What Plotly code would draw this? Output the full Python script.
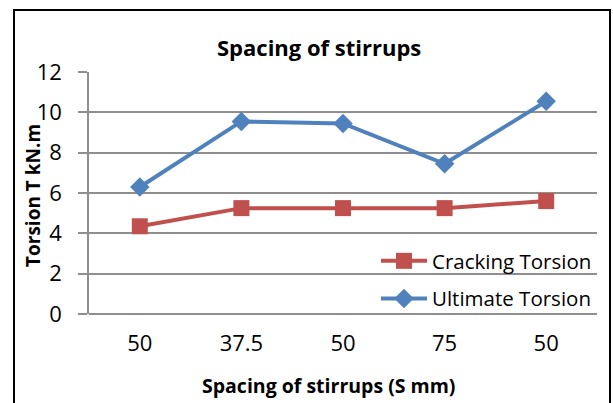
import plotly.graph_objects as go

categories = ["50", "37.5", "50", "75", "50"]
cracking = [4.35, 5.25, 5.25, 5.25, 5.6]
ultimate = [6.3, 9.55, 9.45, 7.45, 10.55]
y_ticks = [0, 2, 4, 6, 8, 10, 12]

FONT = "Open Sans"
GRID = "#8e8e8e"
x_idx = list(range(len(categories)))

# pixel geometry of the plot area
L, R, T, B = 89, 597, 72, 314
W, H = R - L, B - T
def px(x): return (x - L) / W
def py(y): return (B - y) / H

fig = go.Figure()
fig.add_trace(go.Scatter(
    x=x_idx, y=cracking, name="Cracking Torsion", mode="lines+markers",
    line=dict(color="#C0504D", width=4),
    marker=dict(symbol="square", size=16, color="#C0504D"),
    legendgroup="a"))
fig.add_trace(go.Scatter(
    x=x_idx, y=ultimate, name="Ultimate Torsion", mode="lines+markers",
    line=dict(color="#4F81BD", width=4),
    marker=dict(symbol="diamond", size=15, color="#4F81BD"),
    legendgroup="b"))

fig.update_layout(
    width=613, height=403,
    margin=dict(l=L, r=613 - R, t=T, b=403 - B),
    paper_bgcolor="white", plot_bgcolor="white",
    font=dict(family=FONT, color="black"),
    showlegend=True,
    legend=dict(x=px(376), y=py(241), xanchor="left", yanchor="top",
                bgcolor="rgba(0,0,0,0)", font=dict(size=20.5, family=FONT),
                traceorder="grouped", tracegroupgap=8,
                itemwidth=46),
    xaxis=dict(range=[-0.5, 4.5], tickvals=x_idx, ticktext=categories,
               showgrid=False, zeroline=False, showline=False, ticks="",
               tickfont=dict(size=22, family=FONT), ticklabelstandoff=14),
    yaxis=dict(range=[0, 12], tickvals=y_ticks, showgrid=True,
               gridcolor=GRID, gridwidth=1.5, zeroline=True,
               zerolinecolor=GRID, zerolinewidth=1.5,
               showline=True, linecolor=GRID, linewidth=1.5,
               ticks="outside", ticklen=9, tickcolor=GRID, tickwidth=1.5,
               tickfont=dict(size=22, family=FONT), ticklabelstandoff=12),
    shapes=[
        dict(type="rect", xref="paper", yref="paper",
             x0=px(354), x1=1, y0=py(318), y1=py(238),
             fillcolor="white", line=dict(width=0), layer="between"),
        dict(type="rect", xref="paper", yref="paper",
             x0=px(14), x1=px(610), y0=py(430), y1=py(10),
             line=dict(color="black", width=2), layer="above")],
    annotations=[
        dict(text="<b>Spacing of stirrups</b>", xref="paper", yref="paper",
             x=px(319), y=py(47), yanchor="middle", showarrow=False,
             font=dict(size=22, family=FONT)),
        dict(text="<b>Torsion T kN.m</b>", xref="paper", yref="paper",
             x=px(33), y=py(196), xanchor="center", yanchor="middle",
             showarrow=False, textangle=-90, font=dict(size=19, family=FONT)),
        dict(text="<b>Spacing of stirrups (S mm)</b>", xref="paper", yref="paper",
             x=px(328), y=py(385), yanchor="middle", showarrow=False,
             font=dict(size=19.5, family=FONT)),
    ],
)

fig.write_html("out.html")
